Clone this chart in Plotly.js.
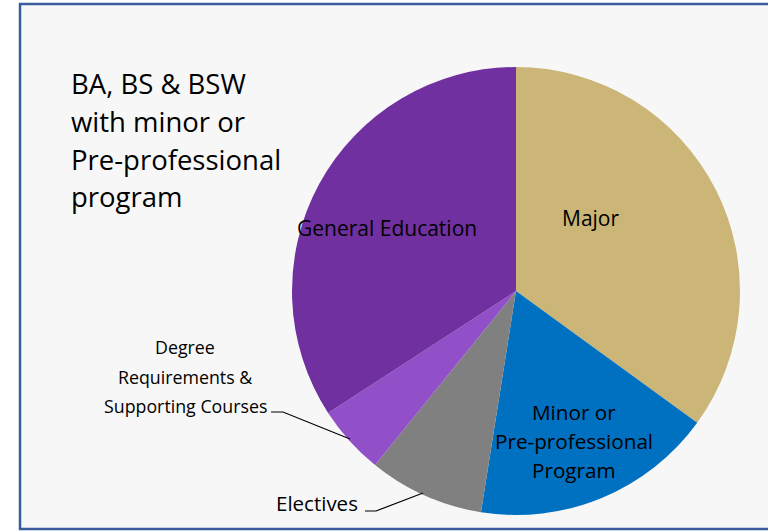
<!DOCTYPE html>
<html>
<head>
<meta charset="utf-8">
<script src="https://cdn.plot.ly/plotly-3.0.1.min.js"></script>
<style>html,body{margin:0;padding:0;background:#fff;}#chart{width:768px;height:531px;}</style>
</head>
<body>
<div id="chart"></div>
<script>
// Data (credit hours)
const categories = ["Major", "Minor or Pre-professional Program", "Electives", "Degree Requirements & Supporting Courses", "General Education"];
const values = [42, 21, 10, 6, 41];
const sliceColors = ["#CBB677", "#0070C0", "#808080", "#914FC8", "#7030A0"];
const titleLines = ["BA, BS & BSW", "with minor or", "Pre-professional", "program"];

const W = 768, H = 531;
const px = x => x / W;
const py = y => 1 - y / H;
const FONT = "'Open Sans', 'Liberation Sans', sans-serif";

const trace = {
  type: "pie",
  labels: categories,
  values: values,
  sort: false,
  direction: "clockwise",
  rotation: 0,
  marker: { colors: sliceColors, line: { width: 0 } },
  textinfo: "none",
  hoverinfo: "label+value",
  showlegend: false,
  domain: { x: [px(292), px(740)], y: [py(515), py(67)] }
};

const annotations = [];
function label(text, x, y, size, anchor) {
  annotations.push({
    xref: "paper", yref: "paper", x: px(x), y: py(y),
    text: text, showarrow: false,
    xanchor: anchor || "center", yanchor: "middle",
    font: { family: FONT, size: size, color: "#000" }
  });
}
// Title block
titleLines.forEach((t, i) => label(t, 69, 84 + i * 37.5, 27.5, "left"));
// Slice labels
label("General Education", 387, 228, 21);
label("Major", 590, 218, 21);
["Minor or", "Pre-professional", "Program"].forEach((t, i) => label(t, 574, 412 + i * 29, 20.7));
["Degree", "Requirements &", "Supporting Courses"].forEach((t, i) => label(t, 185, 347 + i * 29.5, 17.8));
label("Electives", 317, 503, 20.5);

const shapes = [
  { type: "rect", xref: "paper", yref: "paper", layer: "below",
    x0: px(20), x1: px(790), y0: py(529), y1: py(4),
    fillcolor: "#F7F7F7", line: { color: "#3A5C9B", width: 2.5 } },
  { type: "path", xref: "paper", yref: "paper",
    path: `M ${px(271)} ${py(412)} L ${px(283)} ${py(412)} L ${px(350)} ${py(439)}`,
    line: { color: "#000", width: 1.2 } },
  { type: "path", xref: "paper", yref: "paper",
    path: `M ${px(365)} ${py(511)} L ${px(376)} ${py(511)} L ${px(423)} ${py(493)}`,
    line: { color: "#000", width: 1.2 } }
];

const layout = {
  width: W, height: H,
  margin: { l: 0, r: 0, t: 0, b: 0 },
  paper_bgcolor: "#FFFFFF",
  showlegend: false,
  annotations: annotations,
  shapes: shapes
};

Plotly.newPlot("chart", [trace], layout, { displayModeBar: false, staticPlot: true });
</script>
</body>
</html>
